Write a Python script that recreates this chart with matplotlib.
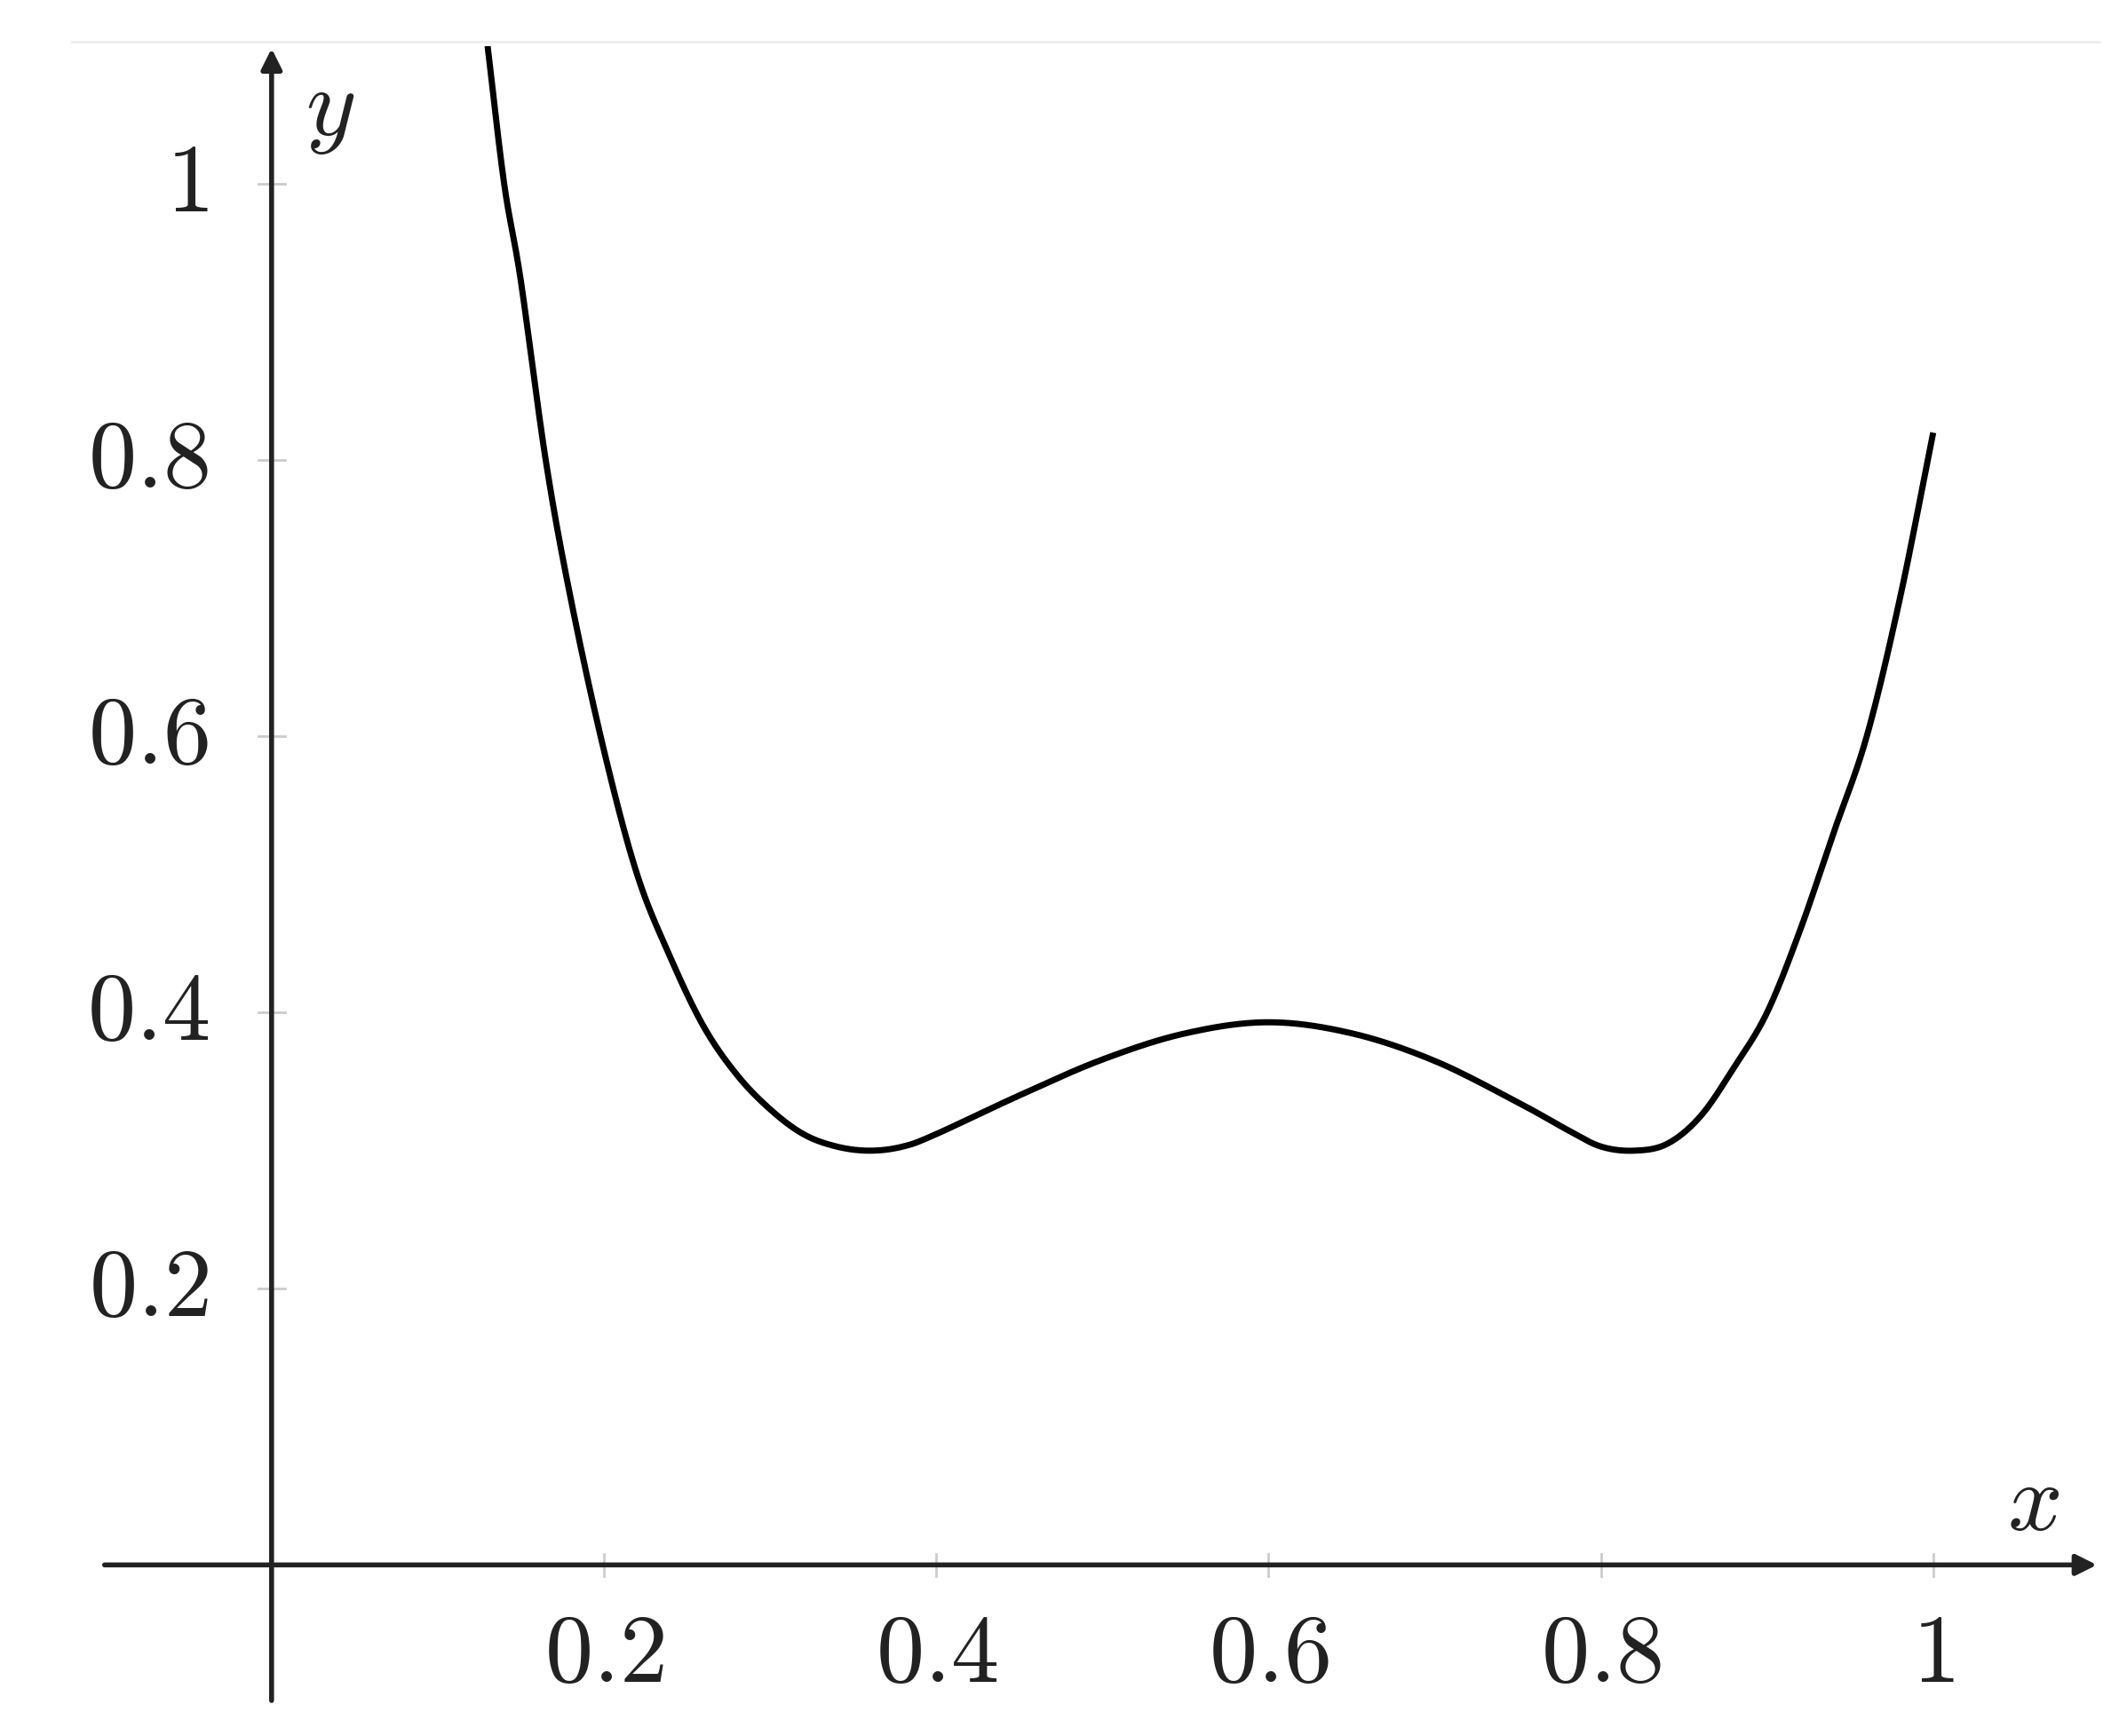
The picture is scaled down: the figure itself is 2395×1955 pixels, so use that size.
import matplotlib
matplotlib.use("Agg")
import matplotlib.pyplot as plt
import numpy as np

plt.rcParams['mathtext.fontset'] = 'cm'

x_vals = [0.13, 0.14, 0.15, 0.165, 0.18, 0.20, 0.22, 0.24, 0.26, 0.28, 0.30, 0.32, 0.34, 0.36,
          0.38, 0.40, 0.45, 0.50, 0.55, 0.60, 0.65, 0.70, 0.75, 0.78, 0.80, 0.82, 0.84, 0.86,
          0.88, 0.90, 0.92, 0.94, 0.96, 0.98, 1.00]
y_vals = [1.10, 1.00, 0.93, 0.80, 0.70, 0.59, 0.50, 0.44, 0.39, 0.355, 0.33, 0.312, 0.303, 0.30,
          0.303, 0.312, 0.34, 0.366, 0.385, 0.393, 0.385, 0.365, 0.335, 0.315, 0.303, 0.30, 0.305, 0.325,
          0.36, 0.40, 0.46, 0.53, 0.60, 0.70, 0.82]
xticks = [0.2, 0.4, 0.6, 0.8, 1.0]
xlabels = ['0.2', '0.4', '0.6', '0.8', '1']
yticks = [0.2, 0.4, 0.6, 0.8, 1.0]
ylabels = ['0.2', '0.4', '0.6', '0.8', '1']


def catmull_rom(xs, ys, n=20):
    # smooth rendering through the read points (curve passes through each one)
    P = np.column_stack([xs, ys])
    P = np.vstack([2 * P[0] - P[1], P, 2 * P[-1] - P[-2]])
    out = []
    t = np.linspace(0, 1, n, endpoint=False)[:, None]
    for i in range(1, len(P) - 2):
        p0, p1, p2, p3 = P[i - 1], P[i], P[i + 1], P[i + 2]
        seg = 0.5 * ((2 * p1) + (-p0 + p2) * t + (2 * p0 - 5 * p1 + 4 * p2 - p3) * t ** 2
                     + (-p0 + 3 * p1 - 3 * p2 + p3) * t ** 3)
        out.append(seg)
    out.append(P[-2][None, :])
    out = np.vstack(out)
    return out[:, 0], out[:, 1]


fig = plt.figure(figsize=(23.95, 19.56), dpi=100)
ax = fig.add_axes([0.048, 0.019, 0.939, 0.954])
ax.set_xlim(-0.102, 1.10)
ax.set_ylim(-0.1, 1.1)
ax.axis('off')

sx, sy = catmull_rom(x_vals, y_vals)
ax.plot(sx, sy, color='black', lw=5, solid_capstyle='butt')

ax.plot([-0.12, 1.10], [1.103, 1.103], color='#eeeeee', lw=2, clip_on=False)
ax.annotate('', xy=(1.10, 0), xytext=(-0.102, 0),
            arrowprops=dict(arrowstyle='-|>', lw=4, color='#222222', mutation_scale=35))
ax.annotate('', xy=(0, 1.10), xytext=(0, -0.1),
            arrowprops=dict(arrowstyle='-|>', lw=4, color='#222222', mutation_scale=35))

for t, l in zip(xticks, xlabels):
    ax.plot([t, t], [-0.008, 0.008], color='#cccccc', lw=2)
    ax.text(t, -0.065, f'${l}$', ha='center', va='center', fontsize=78, color='#222222')
for t, l in zip(yticks, ylabels):
    ax.plot([-0.008, 0.008], [t, t], color='#cccccc', lw=2)
    ax.text(-0.038, t, f'${l}$', ha='right', va='center', fontsize=78, color='#222222')

ax.text(1.06, 0.045, '$x$', ha='center', va='center', fontsize=78, color='#222222')
ax.text(0.035, 1.055, '$y$', ha='center', va='center', fontsize=78, color='#222222')

fig.savefig('out.png', dpi=100)
